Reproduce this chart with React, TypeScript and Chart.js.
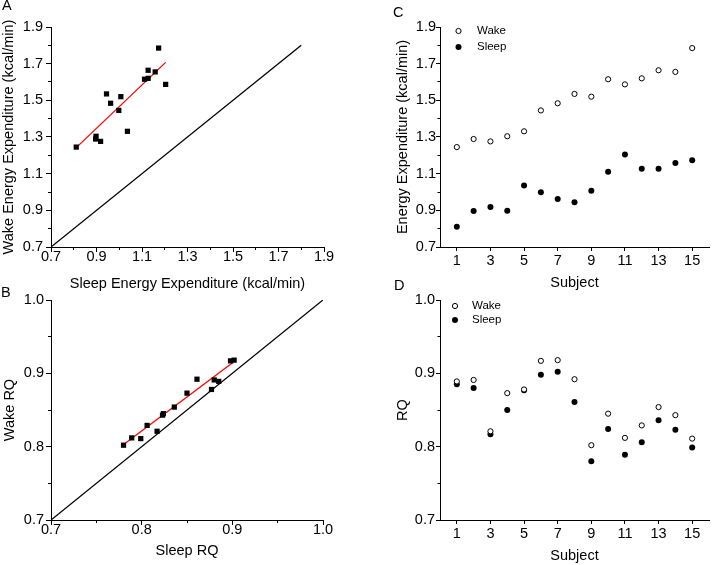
import React, { useEffect, useRef } from 'react';
import { Chart, registerables } from 'chart.js';

Chart.register(...registerables);

// ---------- data ----------
const subjects = [1, 2, 3, 4, 5, 6, 7, 8, 9, 10, 11, 12, 13, 14, 15];
const wakeEE = [1.245, 1.289, 1.276, 1.304, 1.331, 1.445, 1.484, 1.535, 1.52, 1.615, 1.587, 1.62, 1.664, 1.655, 1.785];
const sleepEE = [0.811, 0.896, 0.918, 0.898, 1.036, 0.998, 0.962, 0.944, 1.007, 1.111, 1.204, 1.127, 1.127, 1.158, 1.173];
const wakeRQ = [0.889, 0.891, 0.821, 0.873, 0.878, 0.917, 0.918, 0.892, 0.802, 0.845, 0.812, 0.829, 0.854, 0.843, 0.811];
const sleepRQ = [0.885, 0.88, 0.817, 0.85, 0.877, 0.898, 0.902, 0.861, 0.78, 0.824, 0.789, 0.806, 0.836, 0.823, 0.799];

// fitted lines and identity lines
const fitEEx = [0.811, 1.204];
const fitEEy = [1.242, 1.707];
const fitRQx = [0.779, 0.901];
const fitRQy = [0.802, 0.915];
const identityEE = [0.7, 1.8];
const identityRQ = [0.7, 1.0];

// ticks
const eeTicks = [0.7, 0.9, 1.1, 1.3, 1.5, 1.7, 1.9];
const eeMinor = [0.8, 1.0, 1.2, 1.4, 1.6, 1.8];
const rqTicks = [0.7, 0.8, 0.9, 1.0];
const rqMinor = [0.75, 0.85, 0.95];
const subjectTicks = [1, 3, 5, 7, 9, 11, 13, 15];

const FONT = "'Liberation Sans', Arial, sans-serif";
const FS = 14.5;

const zip = (xs: number[], ys: number[]) => xs.map((x, i) => ({ x, y: ys[i] }));

function alignPx(p: number) {
  return Math.round(p - 0.5) + 0.5;
}

const decorPlugin = {
  id: 'decor',
  afterDraw(chart: any, _args: any, opts: any) {
    const ctx = chart.ctx;
    const { left, top, bottom } = chart.chartArea;
    const xs = chart.scales.x;
    const ys = chart.scales.y;
    ctx.save();
    ctx.strokeStyle = '#000';
    ctx.lineWidth = 1;
    const len = opts.minorLen || 3;
    (opts.minorX || []).forEach((v: number) => {
      const px = alignPx(xs.getPixelForValue(v));
      ctx.beginPath();
      ctx.moveTo(px, bottom);
      ctx.lineTo(px, bottom + len);
      ctx.stroke();
    });
    (opts.minorY || []).forEach((v: number) => {
      const py = alignPx(ys.getPixelForValue(v));
      ctx.beginPath();
      ctx.moveTo(left - len, py);
      ctx.lineTo(left, py);
      ctx.stroke();
    });
    // panel letter
    if (opts.letter) {
      ctx.fillStyle = '#000';
      ctx.font = `${FS}px ${FONT}`;
      ctx.textAlign = 'left';
      ctx.textBaseline = 'middle';
      ctx.fillText(opts.letter, opts.letterX, opts.letterY);
    }
    // inside legend
    if (opts.legend) {
      const L = opts.legend;
      ctx.font = `${L.size}px ${FONT}`;
      ctx.textAlign = 'left';
      ctx.textBaseline = 'middle';
      chart.data.datasets.forEach((ds: any, i: number) => {
        if (!ds.label) return;
        const cx = left + L.dx;
        const cy = top + L.dy + i * L.step;
        ctx.beginPath();
        ctx.arc(cx, cy, ds.pointRadius, 0, Math.PI * 2);
        ctx.fillStyle = ds.backgroundColor;
        ctx.fill();
        if (ds.borderWidth) {
          ctx.lineWidth = ds.borderWidth;
          ctx.strokeStyle = ds.borderColor;
          ctx.stroke();
        }
        ctx.fillStyle = '#000';
        ctx.fillText(ds.label, left + L.tx, cy);
      });
    }
    ctx.restore();
  },
};

function makeAxis(a: any) {
  return {
    type: 'linear',
    position: a.position,
    min: a.min,
    max: a.max,
    afterBuildTicks: (s: any) => {
      s.ticks = a.ticks.map((v: number) => ({ value: v }));
    },
    afterFit: (s: any) => {
      if (a.position === 'bottom') s.height = a.size;
      else s.width = a.size;
    },
    grid: {
      drawOnChartArea: false,
      drawTicks: true,
      tickLength: a.tickLen,
      color: '#000',
      tickColor: '#000',
      lineWidth: 1,
      tickWidth: 1,
    },
    border: { display: true, color: '#000', width: 1 },
    ticks: {
      padding: a.pad,
      color: '#000',
      autoSkip: false,
      maxRotation: 0,
      font: { size: FS, family: FONT },
      callback: (v: number) => (a.decimals ? Number(v).toFixed(1) : String(v)),
    },
    title: {
      display: true,
      text: a.title,
      color: '#000',
      font: { size: FS, family: FONT },
      padding: a.position === 'bottom' ? { top: 0, bottom: a.titlePad } : { top: a.titlePad, bottom: 0 },
    },
  };
}

function baseOptions(p: any) {
  return {
    responsive: false,
    maintainAspectRatio: false,
    animation: false,
    devicePixelRatio: 1,
    events: [],
    layout: { padding: { top: p.padTop, right: p.padRight, left: 0, bottom: 0 } },
    plugins: {
      legend: { display: false },
      tooltip: { enabled: false },
      decor: p.decor,
    },
    scales: { x: makeAxis(p.x), y: makeAxis(p.y) },
  };
}

function configA() {
  return {
    type: 'scatter',
    data: {
      datasets: [
        {
          data: zip(sleepEE, wakeEE),
          pointStyle: 'rect',
          pointRadius: 3.7,
          backgroundColor: '#000',
          borderColor: '#000',
          borderWidth: 0,
        },
        {
          data: zip(fitEEx, fitEEy),
          showLine: true,
          pointRadius: 0,
          borderColor: '#ff0000',
          borderWidth: 1.3,
        },
        {
          data: zip(identityEE, identityEE),
          showLine: true,
          pointRadius: 0,
          borderColor: '#000',
          borderWidth: 1.3,
        },
      ],
    },
    options: baseOptions({
      padTop: 27,
      padRight: 33,
      x: { position: 'bottom', min: 0.7, max: 1.9, ticks: eeTicks, size: 53, tickLen: 5, pad: -3.7, decimals: true, title: 'Sleep Energy Expenditure (kcal/min)', titlePad: 7.3 },
      y: { position: 'left', min: 0.7, max: 1.9, ticks: eeTicks, size: 51, tickLen: 5, pad: 3, decimals: true, title: 'Wake Energy Expenditure (kcal/min)', titlePad: 0.3 },
      decor: { minorX: eeMinor, minorY: eeMinor, minorLen: 3, letter: 'A', letterX: 2, letterY: 6 },
    }),
    plugins: [decorPlugin],
  };
}

function configB() {
  return {
    type: 'scatter',
    data: {
      datasets: [
        {
          data: zip(sleepRQ, wakeRQ),
          pointStyle: 'rect',
          pointRadius: 3.7,
          backgroundColor: '#000',
          borderColor: '#000',
          borderWidth: 0,
        },
        {
          data: zip(fitRQx, fitRQy),
          showLine: true,
          pointRadius: 0,
          borderColor: '#ff0000',
          borderWidth: 1.3,
        },
        {
          data: zip(identityRQ, identityRQ),
          showLine: true,
          pointRadius: 0,
          borderColor: '#000',
          borderWidth: 1.3,
        },
      ],
    },
    options: baseOptions({
      padTop: 30,
      padRight: 34,
      x: { position: 'bottom', min: 0.7, max: 1.0, ticks: rqTicks, size: 45, tickLen: 5, pad: -3.8, decimals: true, title: 'Sleep RQ', titlePad: 5.3 },
      y: { position: 'left', min: 0.7, max: 1.0, ticks: rqTicks, size: 51, tickLen: 5, pad: 2, decimals: true, title: 'Wake RQ', titlePad: 0.8 },
      decor: { minorX: rqMinor, minorY: rqMinor, minorLen: 3, letter: 'B', letterX: 1, letterY: 23 },
    }),
    plugins: [decorPlugin],
  };
}

function subjectDatasets(wake: number[], sleep: number[]) {
  return [
    {
      label: 'Wake',
      data: zip(subjects, wake),
      pointStyle: 'circle',
      pointRadius: 2.6,
      backgroundColor: '#fff',
      borderColor: '#000',
      borderWidth: 1,
    },
    {
      label: 'Sleep',
      data: zip(subjects, sleep),
      pointStyle: 'circle',
      pointRadius: 3,
      backgroundColor: '#000',
      borderColor: '#000',
      borderWidth: 0,
    },
  ];
}

function configC() {
  return {
    type: 'scatter',
    data: { datasets: subjectDatasets(wakeEE, sleepEE) },
    options: baseOptions({
      padTop: 27,
      padRight: 1,
      x: { position: 'bottom', min: 0, max: 16, ticks: subjectTicks, size: 53, tickLen: 4, pad: 1.3, decimals: false, title: 'Subject', titlePad: 8.3 },
      y: { position: 'left', min: 0.7, max: 1.9, ticks: eeTicks, size: 83, tickLen: 4, pad: 0, decimals: true, title: 'Energy Expenditure (kcal/min)', titlePad: 37.3 },
      decor: { minorY: eeMinor, minorLen: 2.5, letter: 'C', letterX: 36, letterY: 12.5, legend: { dx: 18.5, dy: 4, step: 16, tx: 37, size: 11.5 } },
    }),
    plugins: [decorPlugin],
  };
}

function configD() {
  return {
    type: 'scatter',
    data: { datasets: subjectDatasets(wakeRQ, sleepRQ) },
    options: baseOptions({
      padTop: 30,
      padRight: 1,
      x: { position: 'bottom', min: 0, max: 16, ticks: subjectTicks, size: 45, tickLen: 4, pad: 1.3, decimals: false, title: 'Subject', titlePad: 0.3 },
      y: { position: 'left', min: 0.7, max: 1.0, ticks: rqTicks, size: 83, tickLen: 4, pad: 1, decimals: true, title: 'RQ', titlePad: 36.8 },
      decor: { minorY: rqMinor, minorLen: 2.5, letter: 'D', letterX: 37, letterY: 15.5, legend: { dx: 15, dy: 6, step: 14, tx: 32, size: 11.5 } },
    }),
    plugins: [decorPlugin],
  };
}

function Panel(props: { left: number; top: number; width: number; height: number; make: () => any }) {
  const ref = useRef<HTMLCanvasElement | null>(null);
  useEffect(() => {
    const chart = new Chart(ref.current as HTMLCanvasElement, props.make());
    return () => chart.destroy();
  }, []);
  return (
    <canvas
      ref={ref}
      width={props.width}
      height={props.height}
      style={{ position: 'absolute', left: props.left, top: props.top, width: props.width, height: props.height }}
    />
  );
}

export default function App() {
  return (
    <div style={{ position: 'fixed', left: 0, top: 0, width: 714, height: 565, background: '#fff', overflow: 'hidden' }}>
      <Panel left={0} top={0} width={357} height={300} make={configA} />
      <Panel left={357} top={0} width={357} height={300} make={configC} />
      <Panel left={0} top={270} width={357} height={295} make={configB} />
      <Panel left={357} top={270} width={357} height={295} make={configD} />
    </div>
  );
}
